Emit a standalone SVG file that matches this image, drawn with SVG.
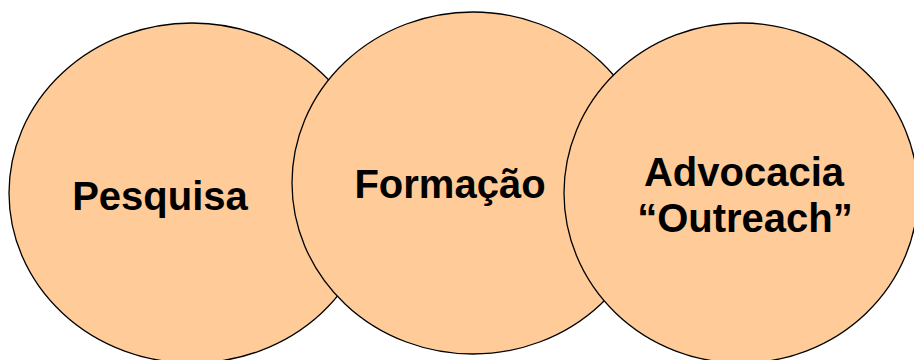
<svg xmlns="http://www.w3.org/2000/svg" width="914" height="360" viewBox="0 0 914 360">
<style>
.c{fill:#FFCC99;stroke:#000;stroke-width:1.3}
.t{font-family:"Liberation Sans",Arial,sans-serif;font-weight:bold;font-size:40px;fill:#000;text-anchor:middle}
</style>
<rect width="914" height="360" fill="#fff"/>
<g id="pesquisa">
<ellipse class="c" cx="192" cy="193" rx="183" ry="170"/>
<text class="t" x="160" y="210">Pesquisa</text>
</g>
<g id="formacao">
<ellipse class="c" cx="473" cy="183" rx="181" ry="171"/>
<text class="t" x="450" y="198">Formação</text>
</g>
<g id="advocacia">
<ellipse class="c" cx="741" cy="193" rx="177" ry="170"/>
<text class="t" x="744" y="186">Advocacia</text>
<text class="t" x="745" y="232">“Outreach”</text>
</g>
<g id="connectors"/>
</svg>
